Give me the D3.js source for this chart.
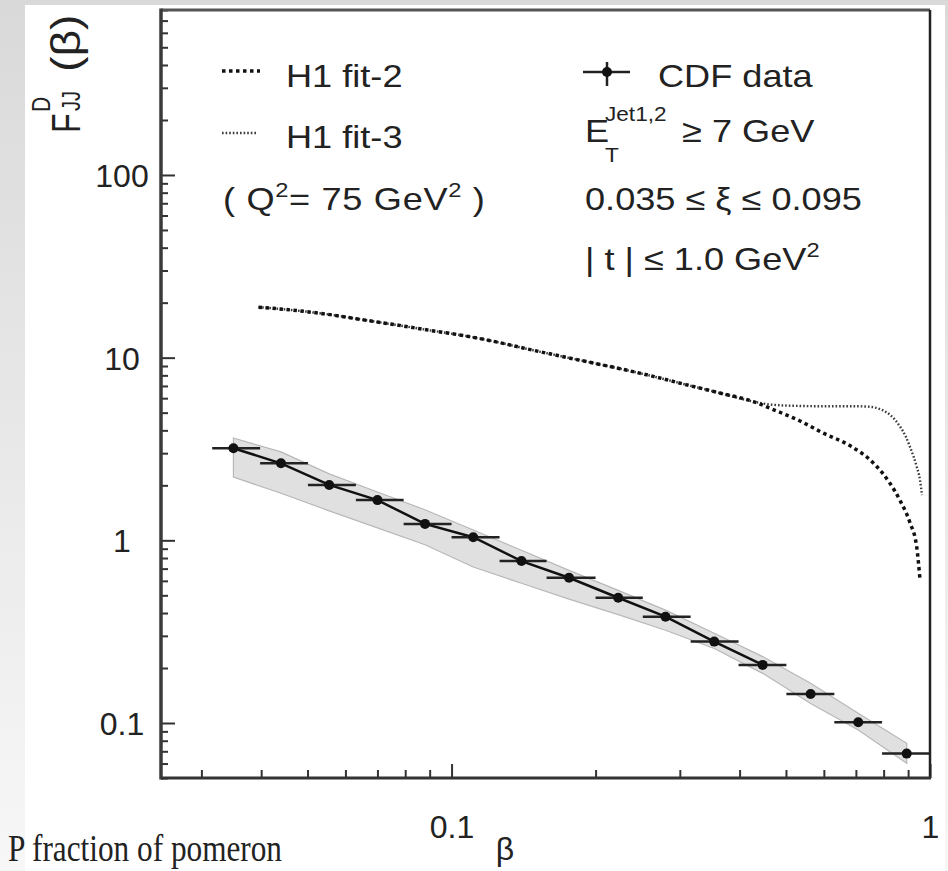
<!DOCTYPE html>
<html>
<head>
<meta charset="utf-8">
<script src="https://cdn.jsdelivr.net/npm/d3@7"></script>
<style>
  html, body { margin: 0; padding: 0; background: #fff; }
  svg { display: block; }
  text { font-family: "Liberation Sans", Arial, sans-serif; fill: #222; white-space: pre; }
</style>
</head>
<body>
<svg id="chart" width="948" height="871"></svg>
<script>
// CDF dijet data, bins in beta
var betaCenters = [0.035, 0.044, 0.0555, 0.070, 0.088, 0.111, 0.140, 0.176, 0.223, 0.280, 0.354, 0.447, 0.563, 0.708, 0.894];
var binEdges = [0.0316, 0.0398, 0.0501, 0.0631, 0.0794, 0.100, 0.126, 0.158, 0.200, 0.251, 0.316, 0.398, 0.501, 0.631, 0.794, 1.0];
var cdfValues = [3.19, 2.64, 2.01, 1.66, 1.23, 1.04, 0.77, 0.624, 0.485, 0.382, 0.279, 0.208, 0.144, 0.101, 0.068];
var bandHigh = [3.63, 3.05, 2.31, 1.84, 1.47, 1.14, 0.882, 0.685, 0.532, 0.415, 0.310, 0.231, 0.165, 0.113, 0.0774];
var bandLow = [2.22, 1.81, 1.45, 1.17, 0.946, 0.714, 0.582, 0.477, 0.392, 0.322, 0.256, 0.187, 0.128, 0.0916, 0.0602];
var linkedPoints = 12; // solid line joins the first 12 points

// H1 fits at Q2 = 75 GeV2
var fit2Beta = [0.0395, 0.0475, 0.0557, 0.0654, 0.0768, 0.0902, 0.106, 0.124, 0.141, 0.163, 0.192, 0.225, 0.264, 0.310, 0.364, 0.427,
                0.47, 0.535, 0.60, 0.68, 0.767, 0.825, 0.866, 0.908, 0.938, 0.953];
var fit2Values = [18.9, 18.1, 17.2, 16.1, 15.1, 14.1, 13.2, 12.2, 11.3, 10.4, 9.5, 8.7, 7.9, 7.1, 6.4, 5.75,
                  5.2, 4.5, 3.85, 3.3, 2.6, 2.05, 1.65, 1.25, 0.92, 0.61];
var fit3Beta = [0.0395, 0.0475, 0.0557, 0.0654, 0.0768, 0.0902, 0.106, 0.124, 0.141, 0.163, 0.192, 0.225, 0.264, 0.310, 0.364, 0.427,
                0.46, 0.52, 0.60, 0.70, 0.75, 0.79, 0.83, 0.866, 0.89, 0.908, 0.925, 0.938, 0.953, 0.962];
var fit3Values = [18.9, 18.1, 17.2, 16.1, 15.1, 14.1, 13.2, 12.2, 11.3, 10.4, 9.5, 8.7, 7.9, 7.1, 6.4, 5.75,
                  5.55, 5.45, 5.42, 5.42, 5.38, 5.2, 4.8, 4.19, 3.7, 3.25, 2.85, 2.53, 2.14, 1.77];

// ticks
var yMajorTicks = [0.1, 1, 10, 100];
var yTickLabels = ["0.1", "1", "10", "100"];
var yMinorTicks = [0.05, 0.06, 0.07, 0.08, 0.09, 0.2, 0.3, 0.4, 0.5, 0.6, 0.7, 0.8, 0.9,
                   2, 3, 4, 5, 6, 7, 8, 9, 20, 30, 40, 50, 60, 70, 80, 90, 200, 300, 400, 500, 600, 700, 800];
var xMajorTicks = [0.1, 1];
var xTickLabels = ["0.1", "1"];
var xMinorTicks = [0.03, 0.04, 0.05, 0.06, 0.07, 0.08, 0.09, 0.2, 0.3, 0.4, 0.5, 0.6, 0.7, 0.8, 0.9];

var svg = d3.select("#chart");

// slide background
var defs = svg.append("defs");
var grad = defs.append("linearGradient").attr("id", "bg").attr("x1", 0).attr("y1", 0).attr("x2", 0).attr("y2", 1);
grad.append("stop").attr("offset", "0%").attr("stop-color", "#d9d9d9");
grad.append("stop").attr("offset", "100%").attr("stop-color", "#f7f7f7");
svg.append("rect").attr("width", 948).attr("height", 871).attr("fill", "url(#bg)");
svg.append("rect").attr("x", 25).attr("y", 5).attr("width", 920).attr("height", 866).attr("fill", "#fff");

var plotLeft = 161, plotRight = 930, plotTop = 10, plotBottom = 778;

var x = d3.scaleLog().domain([0.0247, 1]).range([plotLeft, plotRight]);
var y = d3.scaleLog().domain([0.05, 800]).range([plotBottom, plotTop]);

// systematic band
var bandData = betaCenters.map(function (b, i) { return [b, bandLow[i], bandHigh[i]]; });
svg.append("path")
  .datum(bandData)
  .attr("d", d3.area().x(d => x(d[0])).y0(d => y(d[1])).y1(d => y(d[2])))
  .attr("fill", "#e0e0e0")
  .attr("stroke", "#b8b8b8")
  .attr("stroke-width", 1.2);

// H1 fits
var line = d3.line().x(d => x(d[0])).y(d => y(d[1])).curve(d3.curveMonotoneX);
svg.append("path")
  .datum(fit3Beta.map((b, i) => [b, fit3Values[i]]))
  .attr("d", line)
  .attr("fill", "none").attr("stroke", "#3a3a3a").attr("stroke-width", 2.4)
  .attr("stroke-dasharray", "1.6,2");
svg.append("path")
  .datum(fit2Beta.map((b, i) => [b, fit2Values[i]]))
  .attr("d", line)
  .attr("fill", "none").attr("stroke", "#111").attr("stroke-width", 3.5)
  .attr("stroke-dasharray", "3.5,3.5");

// CDF data
var points = betaCenters.map((b, i) => ({ b: b, v: cdfValues[i], lo: binEdges[i], hi: binEdges[i + 1] }));

svg.append("path")
  .datum(points.slice(0, linkedPoints))
  .attr("d", d3.line().x(d => x(d.b)).y(d => y(d.v)))
  .attr("fill", "none").attr("stroke", "#111").attr("stroke-width", 2.5);

svg.append("g").selectAll("line")
  .data(points).enter().append("line")
  .attr("x1", d => x(d.lo)).attr("x2", d => x(d.hi))
  .attr("y1", d => y(d.v)).attr("y2", d => y(d.v))
  .attr("stroke", "#222").attr("stroke-width", 2.5);

svg.append("g").selectAll("circle")
  .data(points).enter().append("circle")
  .attr("cx", d => x(d.b)).attr("cy", d => y(d.v))
  .attr("r", 5).attr("fill", "#111");

// axes (ticks inward)
var yAxis = svg.append("g").attr("transform", "translate(" + plotLeft + ",0)")
  .call(d3.axisLeft(y).tickValues(yMajorTicks).tickSize(-14).tickFormat((d, i) => yTickLabels[i]));
yAxis.selectAll("text").attr("x", -39).attr("dy", "0.36em")
  .attr("text-anchor", "middle").style("font-size", "32px").attr("fill", "#222");
svg.append("g").attr("transform", "translate(" + plotLeft + ",0)")
  .call(d3.axisLeft(y).tickValues(yMinorTicks).tickSize(-7).tickFormat(""));

var xAxis = svg.append("g").attr("transform", "translate(0," + plotBottom + ")")
  .call(d3.axisBottom(x).tickValues(xMajorTicks).tickSize(-14).tickFormat((d, i) => xTickLabels[i]));
xAxis.selectAll("text").attr("y", 60).attr("dy", 0)
  .style("font-size", "32px").attr("fill", "#222");
svg.append("g").attr("transform", "translate(0," + plotBottom + ")")
  .call(d3.axisBottom(x).tickValues(xMinorTicks).tickSize(-8).tickFormat(""));

svg.selectAll(".domain").remove();
svg.selectAll(".tick line").attr("stroke", "#333").attr("stroke-width", 2);

// frame
svg.append("line").attr("x1", plotLeft).attr("x2", plotRight).attr("y1", plotTop).attr("y2", plotTop)
  .attr("stroke", "#555").attr("stroke-width", 3);
svg.append("line").attr("x1", plotRight).attr("x2", plotRight).attr("y1", plotTop).attr("y2", plotBottom)
  .attr("stroke", "#222").attr("stroke-width", 2.5);
svg.append("line").attr("x1", plotLeft).attr("x2", plotLeft).attr("y1", plotTop - 1.5).attr("y2", plotBottom + 1.5)
  .attr("stroke", "#3a3a3a").attr("stroke-width", 3.5);
svg.append("line").attr("x1", plotLeft).attr("x2", plotRight + 1).attr("y1", plotBottom).attr("y2", plotBottom)
  .attr("stroke", "#333").attr("stroke-width", 3);

// text helpers
function stretched(px, py, size) {
  return svg.append("text")
    .attr("transform", "translate(" + px + "," + py + ") scale(1.13,1)")
    .style("font-size", size + "px");
}

// legend samples
svg.append("line").attr("x1", 222).attr("x2", 260).attr("y1", 71).attr("y2", 71)
  .attr("stroke", "#111").attr("stroke-width", 3.5).attr("stroke-dasharray", "3.5,3.5");
svg.append("line").attr("x1", 222).attr("x2", 258).attr("y1", 133).attr("y2", 133)
  .attr("stroke", "#3a3a3a").attr("stroke-width", 2.4).attr("stroke-dasharray", "1.6,2");
svg.append("line").attr("x1", 583).attr("x2", 630).attr("y1", 72).attr("y2", 72)
  .attr("stroke", "#222").attr("stroke-width", 2.5);
svg.append("line").attr("x1", 607).attr("x2", 607).attr("y1", 62).attr("y2", 86)
  .attr("stroke", "#222").attr("stroke-width", 2.5);
svg.append("circle").attr("cx", 607).attr("cy", 72).attr("r", 5).attr("fill", "#111");

stretched(286, 87, 32).text("H1 fit-2");
stretched(286, 148, 32).text("H1 fit-3");
var q = stretched(223, 210, 32).style("letter-spacing", "0.6px");
q.append("tspan").text("( Q");
q.append("tspan").attr("dy", -13).style("font-size", "21px").text("2");
q.append("tspan").attr("dy", 13).text("= 75 GeV");
q.append("tspan").attr("dy", -13).style("font-size", "21px").text("2");
q.append("tspan").attr("dy", 13).text(" )");

stretched(658, 87, 32).text("CDF data");
stretched(585, 142, 32).text("E");
stretched(605, 121, 20).text("Jet1,2");
stretched(605, 162, 20).text("T");
stretched(682, 142, 32).text("≥ 7 GeV");
stretched(585, 210, 32).text("0.035 ≤ ξ ≤ 0.095");
var tl = stretched(585, 270, 32);
tl.append("tspan").text("| t | ≤ 1.0 GeV");
tl.append("tspan").attr("dy", -13).style("font-size", "21px").text("2");

// y axis title
var yl = svg.append("g").attr("transform", "translate(80,133) rotate(-90) scale(1,1.25)");
yl.append("text").attr("x", 0).attr("y", 0).style("font-size", "32px").text("F");
yl.append("text").attr("x", 21).attr("y", -24).style("font-size", "21px").text("D");
yl.append("text").attr("x", 22).attr("y", 0).style("font-size", "20px").text("JJ");
yl.append("text").attr("transform", "translate(61,0) scale(1.45,1)")
  .style("font-size", "32px").text("(β)");

// x axis title and caption
svg.append("text").attr("x", 505).attr("y", 860).attr("text-anchor", "middle")
  .style("font-size", "32px").text("β");
svg.append("text").attr("x", 8).attr("y", 861)
  .style("font-family", "'Liberation Serif', 'Times New Roman', serif")
  .style("font-size", "37px").attr("fill", "#000")
  .attr("textLength", 274).attr("lengthAdjust", "spacingAndGlyphs")
  .text("P fraction of pomeron");
</script>
</body>
</html>
